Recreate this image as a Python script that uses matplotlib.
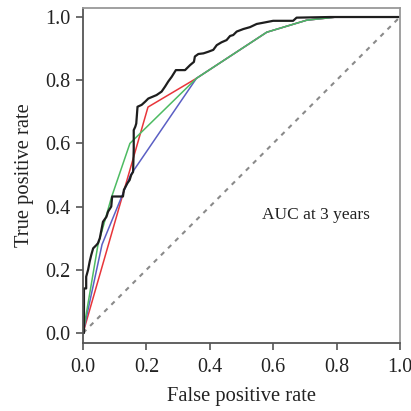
import matplotlib
matplotlib.use("Agg")
import matplotlib.pyplot as plt

# curva ROC del modelo combinado (negra)
fpr_modelo = [0, 0.003, 0.003, 0.010, 0.010, 0.016, 0.021, 0.026, 0.032, 0.042,
              0.047, 0.053, 0.058, 0.063, 0.074, 0.079, 0.089, 0.092, 0.126, 0.129,
              0.140, 0.147, 0.152, 0.158, 0.160, 0.160, 0.165, 0.168, 0.172, 0.185,
              0.196, 0.206, 0.232, 0.248, 0.259, 0.269, 0.280, 0.293, 0.322, 0.338,
              0.350, 0.353, 0.364, 0.380, 0.395, 0.411, 0.422, 0.437, 0.453, 0.464,
              0.474, 0.485, 0.506, 0.527, 0.548, 0.569, 0.600, 0.663, 0.674, 0.780, 1.0]
tpr_modelo = [0, 0.0, 0.141, 0.141, 0.178, 0.200, 0.226, 0.247, 0.268, 0.278,
              0.284, 0.300, 0.326, 0.352, 0.368, 0.384, 0.400, 0.432, 0.432, 0.453,
              0.474, 0.484, 0.500, 0.510, 0.580, 0.642, 0.653, 0.663, 0.716, 0.722,
              0.732, 0.742, 0.753, 0.764, 0.780, 0.796, 0.811, 0.832, 0.832, 0.848,
              0.858, 0.875, 0.883, 0.885, 0.890, 0.896, 0.911, 0.920, 0.927, 0.940,
              0.943, 0.954, 0.962, 0.968, 0.978, 0.982, 0.988, 0.988, 0.998, 1.0, 1.0]

# curvas de las variables individuales
fpr_rojo = [0, 0.205, 0.358, 0.580, 0.706, 0.800, 1.0]
tpr_rojo = [0, 0.715, 0.806, 0.952, 0.990, 1.0, 1.0]

fpr_azul = [0, 0.060, 0.150, 0.358, 0.580, 0.706, 0.800, 1.0]
tpr_azul = [0, 0.280, 0.500, 0.806, 0.952, 0.990, 1.0, 1.0]

fpr_verde = [0, 0.047, 0.090, 0.148, 0.358, 0.580, 0.706, 0.800, 1.0]
tpr_verde = [0, 0.278, 0.430, 0.600, 0.806, 0.952, 0.990, 1.0, 1.0]

plt.rcParams['font.family'] = ['Liberation Serif', 'DejaVu Serif']

fig = plt.figure(figsize=(4.11, 4.11), dpi=100)
ax = fig.add_axes([0.202, 0.1655, 0.771, 0.815])

# diagonal de referencia
ax.plot([0, 1], [0, 1], color='#8a8a8a', lw=1.5, linestyle=(0, (2.2, 2.6)))

ax.plot(fpr_rojo, tpr_rojo, color='#e8353a', lw=1.1)
ax.plot(fpr_azul, tpr_azul, color='#5b5fc4', lw=1.1)
ax.plot(fpr_verde, tpr_verde, color='#4dbb62', lw=1.1)
ax.plot(fpr_modelo, tpr_modelo, color='#1e1e1e', lw=1.6)

ax.text(0.735, 0.375, 'AUC at 3 years', fontsize=12.5, ha='center', va='center',
        color='#222222')

ax.set_xlim(0, 1)
ax.set_ylim(-0.0316, 1.0285)
ticks = [0.0, 0.2, 0.4, 0.6, 0.8, 1.0]
ax.set_xticks(ticks)
ax.set_yticks(ticks)
ax.set_xticklabels([f'{t:.1f}' for t in ticks])
ax.set_yticklabels([f'{t:.1f}' for t in ticks])
ax.tick_params(labelsize=14.5, length=5, width=1.2, color='#555555',
               labelcolor='#222222', pad=4)
ax.tick_params(axis='x', pad=6)

for lado in ['left', 'bottom']:
    ax.spines[lado].set_color('#555555')
    ax.spines[lado].set_linewidth(1.3)
for lado in ['top', 'right']:
    ax.spines[lado].set_color('#999999')
    ax.spines[lado].set_linewidth(1.3)

ax.set_xlabel('False positive rate', fontsize=14.8, color='#222222', labelpad=7)
ax.set_ylabel('True positive rate', fontsize=14.8, color='#222222', labelpad=8)

fig.savefig('out.png', dpi=100)
